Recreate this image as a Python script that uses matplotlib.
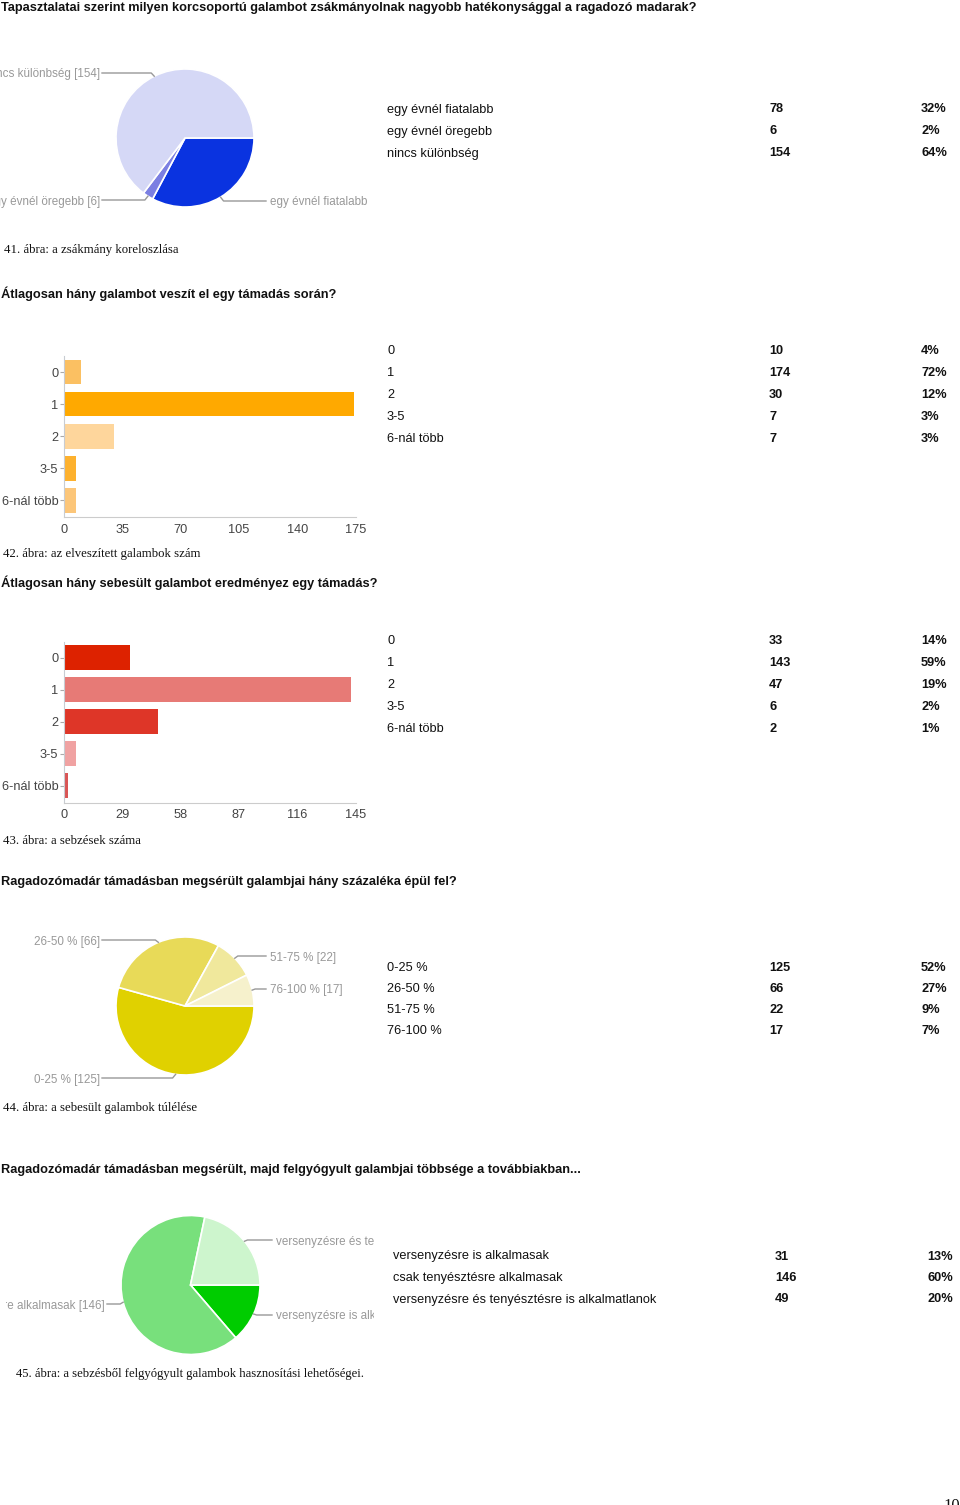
import numpy as np
import matplotlib
matplotlib.use("Agg")
import matplotlib.pyplot as plt

plt.rcParams['font.family'] = ['Liberation Sans', 'DejaVu Sans']

W, H = 960, 1505

# --- data ---
q1_title = "Tapasztalatai szerint milyen korcsoportú galambot zsákmányolnak nagyobb hatékonysággal a ragadozó madarak?"
q1_cats = ["egy évnél fiatalabb", "egy évnél öregebb", "nincs különbség"]
q1_vals = [78, 6, 154]
q1_pct = [32, 2, 64]
q1_caption = "41. ábra: a zsákmány koreloszlása"

q2_title = "Átlagosan hány galambot veszít el egy támadás során?"
q2_cats = ["0", "1", "2", "3-5", "6-nál több"]
q2_vals = [10, 174, 30, 7, 7]
q2_pct = [4, 72, 12, 3, 3]
q2_ticks = [0, 35, 70, 105, 140, 175]
q2_caption = "42. ábra: az elveszített galambok szám"

q3_title = "Átlagosan hány sebesült galambot eredményez egy támadás?"
q3_cats = ["0", "1", "2", "3-5", "6-nál több"]
q3_vals = [33, 143, 47, 6, 2]
q3_pct = [14, 59, 19, 2, 1]
q3_ticks = [0, 29, 58, 87, 116, 145]
q3_caption = "43. ábra: a sebzések száma"

q4_title = "Ragadozómadár támadásban megsérült galambjai hány százaléka épül fel?"
q4_cats = ["0-25 %", "26-50 %", "51-75 %", "76-100 %"]
q4_vals = [125, 66, 22, 17]
q4_pct = [52, 27, 9, 7]
q4_caption = "44. ábra: a sebesült galambok túlélése"

q5_title = "Ragadozómadár támadásban megsérült, majd felgyógyult galambjai többsége a továbbiakban..."
q5_cats = ["versenyzésre is alkalmasak", "csak tenyésztésre alkalmasak",
           "versenyzésre és tenyésztésre is alkalmatlanok"]
q5_vals = [31, 146, 49]
q5_pct = [13, 60, 20]
q5_caption = "45. ábra: a sebzésből felgyógyult galambok hasznosítási lehetőségei."

page_no = "10"

fig = plt.figure(figsize=(W / 100, H / 100), dpi=100)

SANS = ['Liberation Sans', 'DejaVu Sans']
SERIF = ['Liberation Serif', 'DejaVu Serif']
DY = 1.5  # text baseline nudge (px)


def ftext(x, y, s, **kw):
    kw.setdefault('va', 'center')
    kw.setdefault('fontsize', 9.2)
    kw.setdefault('family', SANS)
    fig.text(x / W, 1 - (y + DY) / H, s, **kw)


def px_axes(x0, y0, w, h):
    return fig.add_axes([x0 / W, 1 - (y0 + h) / H, w / W, h / H])


def table(x_lab, x_val, x_pct, y0, cats, vals, pct, step=22):
    for i, (c, v, p) in enumerate(zip(cats, vals, pct)):
        y = y0 + i * step
        ftext(x_lab, y, c, color='#111111')
        ftext(x_val, y, str(v), color='#111111', fontweight='bold')
        ftext(x_pct, y, f"{p}%", color='#111111', fontweight='bold')


def pie_chart(box, center, radius, vals, colors, labels):
    x0, y0, w, h = box
    ax = px_axes(x0, y0, w, h)
    cx, cy = center[0], H - center[1]
    wedges, _ = ax.pie(vals, colors=colors, startangle=0, counterclock=False,
                       center=(cx, cy), radius=radius,
                       wedgeprops=dict(edgecolor='white', linewidth=1.2))
    ax.set_aspect('auto')
    ax.set_xlim(x0, x0 + w)
    ax.set_ylim(H - (y0 + h), H - y0)
    ax.axis('off')
    for i, (text, tx, ty, ha) in enumerate(labels):
        wdg = wedges[i]
        mid = np.deg2rad((wdg.theta1 + wdg.theta2) / 2)
        ex, ey = cx + radius * np.cos(mid), cy + radius * np.sin(mid)
        ty_d = H - ty
        if ha == 'right':
            xs = [tx + 2, ex - 3, ex]
        else:
            xs = [tx - 4, ex + 3, ex]
        ax.plot(xs, [ty_d, ty_d, ey], color='#999999', lw=1, clip_on=True)
        ax.text(tx, ty_d - DY, text, ha=ha, va='center', fontsize=8.4,
                color='#999999', family=SANS, clip_on=True)
    return ax


def bar_chart(top, bottom, vals, cats, colors, ticks):
    ax = px_axes(64, top, 291.5, bottom - top)
    y = np.arange(len(vals))
    ax.barh(y, vals, height=0.78, color=colors)
    ax.set_xlim(ticks[0], ticks[-1])
    ax.set_ylim(len(vals) - 0.47, -0.5)
    ax.set_yticks(y)
    ax.set_yticklabels(cats)
    ax.set_xticks(ticks)
    for s in ['top', 'right']:
        ax.spines[s].set_visible(False)
    ax.spines['left'].set_color('#c8ccd2')
    ax.spines['bottom'].set_color('#cccccc')
    ax.tick_params(axis='y', length=3, color='#aaaaaa', labelsize=9.2,
                   labelcolor='#444444', pad=1)
    ax.tick_params(axis='x', length=0, labelsize=9.2, labelcolor='#444444',
                   pad=5)
    return ax


# ---- question 1 ----
ftext(1, 7, q1_title, fontweight='bold', color='#111111')
pie_chart((0, 55, 369, 165), (185, 138), 69, q1_vals,
          ['#0a33e0', '#7b7fe2', '#d5d8f6'],
          [(f"{q1_cats[0]} [{q1_vals[0]}]", 270, 201, 'left'),
           (f"{q1_cats[1]} [{q1_vals[1]}]", 100, 200, 'right'),
           (f"{q1_cats[2]} [{q1_vals[2]}]", 100, 73, 'right')])
table(387, 769, 921, 108, q1_cats, q1_vals, q1_pct)
ftext(4, 248, q1_caption, family=SERIF, fontsize=9.2, color='#111111')

# ---- question 2 ----
ftext(1, 292, q2_title, fontweight='bold', color='#111111')
bar_chart(356, 517, q2_vals, q2_cats,
          ['#fbc062', '#ffa900', '#fed69c', '#fdb12e', '#fcc679'], q2_ticks)
table(387, 769, 921, 350, q2_cats, q2_vals, q2_pct)
ftext(3, 553, q2_caption, family=SERIF, fontsize=9.2, color='#111111')

# ---- question 3 ----
ftext(1, 581, q3_title, fontweight='bold', color='#111111')
bar_chart(641.5, 802.5, q3_vals, q3_cats,
          ['#dd2200', '#e77a76', '#de3628', '#f0a2a2', '#d95555'], q3_ticks)
table(387, 769, 921, 640, q3_cats, q3_vals, q3_pct)
ftext(3, 839, q3_caption, family=SERIF, fontsize=9.2, color='#111111')

# ---- question 4 ----
ftext(1, 881, q4_title, fontweight='bold', color='#111111')
pie_chart((0, 925, 370, 165), (185, 1006), 69, q4_vals,
          ['#e0d100', '#e8da58', '#f0e89c', '#f6f1cc'],
          [(f"{q4_cats[0]} [{q4_vals[0]}]", 100, 1078, 'right'),
           (f"{q4_cats[1]} [{q4_vals[1]}]", 100, 940, 'right'),
           (f"{q4_cats[2]} [{q4_vals[2]}]", 270, 956, 'left'),
           (f"{q4_cats[3]} [{q4_vals[3]}]", 270, 989, 'left')])
table(387, 769, 921, 966, q4_cats, q4_vals, q4_pct, step=21.3)
ftext(3, 1106, q4_caption, family=SERIF, fontsize=9.2, color='#111111')

# ---- question 5 ----
ftext(1, 1168, q5_title, fontweight='bold', color='#111111')
pie_chart((6, 1205, 368, 160), (190.5, 1285), 69.5, q5_vals,
          ['#00cc00', '#78e07c', '#cdf5cd'],
          [(f"{q5_cats[0]} [{q5_vals[0]}]", 276, 1315, 'left'),
           (f"{q5_cats[1]} [{q5_vals[1]}]", 105, 1304, 'right'),
           (f"{q5_cats[2]} [{q5_vals[2]}]", 276, 1240, 'left')])
table(393, 775, 927, 1255, q5_cats, q5_vals, q5_pct, step=21.5)
ftext(16, 1373, q5_caption, family=SERIF, fontsize=9.1, color='#111111')

# page number, cut by the page edge
fig.text(943 / W, 1 - 1498 / H, page_no, va='top', ha='left', fontsize=12,
         color='#111111', family=SERIF)

fig.savefig("out.png", dpi=100)
